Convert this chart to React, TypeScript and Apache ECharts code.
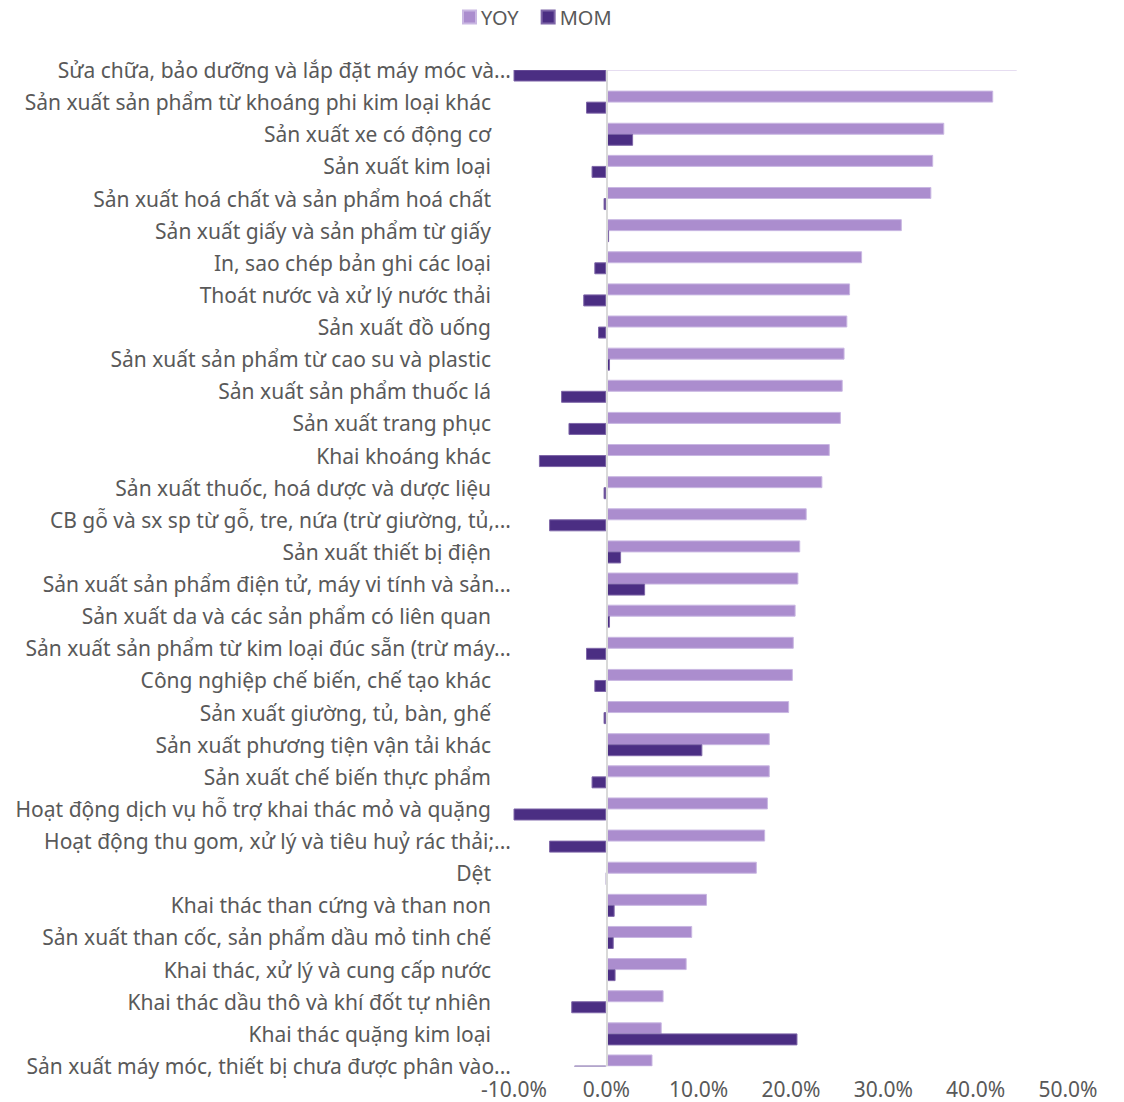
import React, { useEffect, useRef } from "react";
import * as echarts from "echarts";

const categories = [
  "Sửa chữa, bảo dưỡng và lắp đặt máy móc và...",
  "Sản xuất sản phẩm từ khoáng phi kim loại khác",
  "Sản xuất xe có động cơ",
  "Sản xuất kim loại",
  "Sản xuất hoá chất và sản phẩm hoá chất",
  "Sản xuất giấy và sản phẩm từ giấy",
  "In, sao chép bản ghi các loại",
  "Thoát nước và xử lý nước thải",
  "Sản xuất đồ uống",
  "Sản xuất sản phẩm từ cao su và plastic",
  "Sản xuất sản phẩm thuốc lá",
  "Sản xuất trang phục",
  "Khai khoáng khác",
  "Sản xuất thuốc, hoá dược và dược liệu",
  "CB gỗ và sx sp từ gỗ, tre, nứa (trừ giường, tủ,...",
  "Sản xuất thiết bị điện",
  "Sản xuất sản phẩm điện tử, máy vi tính và sản...",
  "Sản xuất da và các sản phẩm có liên quan",
  "Sản xuất sản phẩm từ kim loại đúc sẵn (trừ máy...",
  "Công nghiệp chế biến, chế tạo khác",
  "Sản xuất giường, tủ, bàn, ghế",
  "Sản xuất phương tiện vận tải khác",
  "Sản xuất chế biến thực phẩm",
  "Hoạt động dịch vụ hỗ trợ khai thác mỏ và quặng",
  "Hoạt động thu gom, xử lý và tiêu huỷ rác thải;...",
  "Dệt",
  "Khai thác than cứng và than non",
  "Sản xuất than cốc, sản phẩm dầu mỏ tinh chế",
  "Khai thác, xử lý và cung cấp nước",
  "Khai thác dầu thô và khí đốt tự nhiên",
  "Khai thác quặng kim loại",
  "Sản xuất máy móc, thiết bị chưa được phân vào...",
];

const yoy = [
  44.5, 41.9, 36.6, 35.4, 35.2, 32.0, 27.7, 26.4, 26.1, 25.8, 25.6, 25.4, 24.2,
  23.4, 21.7, 21.0, 20.8, 20.5, 20.3, 20.2, 19.8, 17.7, 17.7, 17.5, 17.2, 16.3,
  10.9, 9.3, 8.7, 6.2, 6.0, 5.0,
];

const mom = [
  -10.1, -2.2, 2.9, -1.6, -0.3, 0.3, -1.3, -2.5, -0.9, 0.4, -4.9, -4.1, -7.3,
  -0.3, -6.2, 1.6, 4.2, 0.4, -2.2, -1.3, -0.3, 10.4, -1.6, -10.1, -6.2, 0,
  0.9, 0.8, 1.0, -3.8, 20.7, -3.5,
];

const xTicks = { min: -10, max: 50, interval: 10 };

const TEXT = "#595959";
const FONT = "'Noto Sans', sans-serif";
const FS = 21;

export default function App() {
  const ref = useRef<HTMLDivElement>(null);
  useEffect(() => {
    if (!ref.current) return;
    const chart = echarts.init(ref.current, undefined, { renderer: "svg" });
    chart.setOption({
      animation: false,
      textStyle: { fontFamily: FONT, color: TEXT },
      legend: {
        top: 2,
        left: 457,
        itemWidth: 13,
        itemHeight: 13,
        itemGap: 22,
        icon: "rect",
        textStyle: { fontFamily: FONT, fontSize: 20, color: TEXT },
        data: ["YOY", "MOM"],
      },
      grid: { left: 514, width: 554, top: 70, height: 996, containLabel: false },
      xAxis: {
        type: "value",
        z: 200,
        min: xTicks.min,
        max: xTicks.max,
        interval: xTicks.interval,
        axisLine: { show: false },
        axisTick: { show: false },
        splitLine: { show: false },
        axisLabel: {
          margin: 13,
          fontSize: FS,
          lineHeight: 20,
          color: TEXT,
          fontFamily: FONT,
          formatter: (v: number) => v.toFixed(1) + "%",
        },
      },
      yAxis: {
        type: "category",
        inverse: true,
        boundaryGap: false,
        data: categories,
        axisLine: { show: false },
        axisTick: { show: false },
        splitLine: { show: false },
        axisLabel: {
          interval: 0,
          margin: 3,
          fontSize: FS,
          color: TEXT,
          fontFamily: FONT,
          formatter: (v: string) => (v.endsWith("...") ? `{e|${v}}` : `{n|${v}}`),
          rich: {
            e: { fontSize: FS, color: TEXT, fontFamily: FONT },
            n: { fontSize: FS, color: TEXT, fontFamily: FONT, padding: [0, 20, 0, 0] },
          },
        },
      },
      graphic: [
        {
          type: "rect",
          z: 100,
          silent: true,
          shape: { x: 512, y: 40, width: 600, height: 30 },
          style: { fill: "#ffffff" },
        },
        {
          type: "rect",
          z: 100,
          silent: true,
          shape: { x: 512, y: 1066.5, width: 600, height: 11.5 },
          style: { fill: "#ffffff" },
        },
      ],
      series: [
        {
          name: "YOY",
          type: "bar",
          data: yoy,
          barWidth: 12,
          barGap: "-8%",
          clip: true,
          itemStyle: { color: "#AB8DCE", borderColor: "#C9B7E2", borderWidth: 1 },
          markLine: {
            silent: true,
            symbol: "none",
            label: { show: false },
            lineStyle: { color: "#D9D9D9", width: 2, type: "solid" },
            data: [{ xAxis: 0 }],
          },
        },
        {
          name: "MOM",
          type: "bar",
          data: mom,
          barWidth: 12,
          clip: true,
          itemStyle: { color: "#4B2E83", borderColor: "#7E66A8", borderWidth: 1 },
        },
      ],
    });
    return () => chart.dispose();
  }, []);
  return (
    <div
      ref={ref}
      style={{ position: "fixed", left: 0, top: 0, width: 1124, height: 1102, background: "#fff" }}
    />
  );
}
